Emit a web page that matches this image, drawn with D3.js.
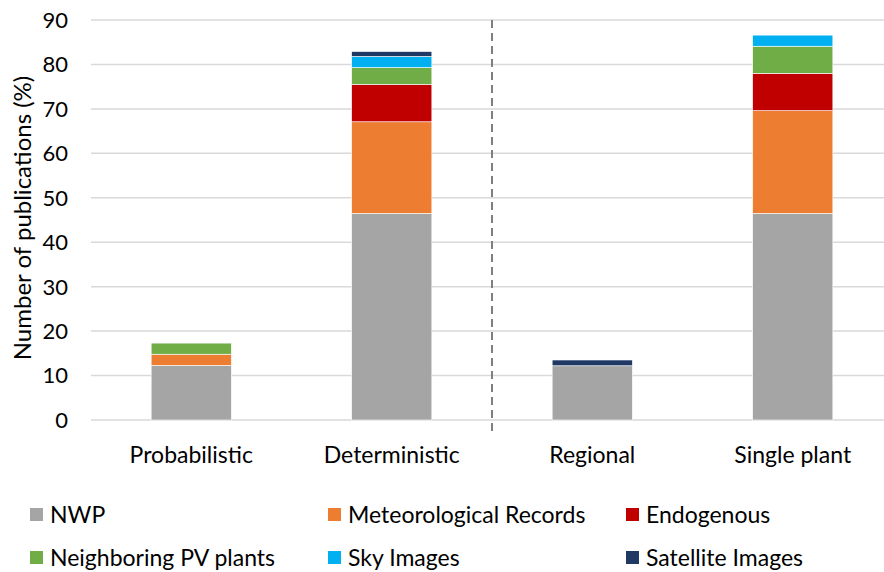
<!DOCTYPE html>
<html>
<head>
<meta charset="utf-8">
<script src="https://cdn.jsdelivr.net/npm/d3@7"></script>
<style>
  html, body { margin: 0; padding: 0; background: #fff; }
  svg text { font-family: Lato, "Open Sans", sans-serif; fill: #000; }
</style>
</head>
<body>
<svg id="chart" width="884" height="572"></svg>
<script>
// Categories along the x axis
const categories = ["Probabilistic", "Deterministic", "Regional", "Single plant"];

// Data sources, stacked bottom to top
const sources = ["NWP", "Meteorological Records", "Endogenous", "Neighboring PV plants", "Sky Images", "Satellite Images"];
const colors = ["#a5a5a5", "#ed7d31", "#c00000", "#70ad47", "#00b0f0", "#1f3864"];

// Share of publications (%) per source, one value per category
const nwp          = [12.3, 46.5, 12.2, 46.5];
const meteoRecords = [2.5, 20.6, 0, 23.1];
const endogenous   = [0, 8.4, 0, 8.4];
const neighboring  = [2.5, 3.8, 0, 6.1];
const skyImages    = [0, 2.5, 0, 2.5];
const satellite    = [0, 1.1, 1.3, 0];

const yTicks = [0, 10, 20, 30, 40, 50, 60, 70, 80, 90];

const seriesValues = [nwp, meteoRecords, endogenous, neighboring, skyImages, satellite];
const rows = categories.map((c, i) => {
  const r = { category: c };
  sources.forEach((s, k) => { r[s] = seriesValues[k][i]; });
  return r;
});

const svg = d3.select("#chart");
const margin = { left: 91, top: 20, plotBottom: 420 };
const plotRight = 893;

const x = d3.scaleBand().domain(categories).range([margin.left, plotRight]).paddingInner(0.6).paddingOuter(0.3);
const y = d3.scaleLinear().domain([0, 90]).range([margin.plotBottom, margin.top]);

// Horizontal gridlines
svg.append("g").selectAll("line").data(yTicks).join("line")
  .attr("x1", margin.left).attr("x2", plotRight)
  .attr("y1", d => y(d)).attr("y2", d => y(d))
  .attr("stroke", "#d9d9d9").attr("stroke-width", 1.5);

// Y tick labels
svg.append("g").selectAll("text").data(yTicks).join("text")
  .attr("x", 68).attr("y", d => y(d))
  .attr("dy", "0.36em")
  .attr("text-anchor", "end")
  .style("font-size", "22px")
  .text(d => d);

// Y axis title
svg.append("text")
  .attr("transform", "translate(31,218) rotate(-90)")
  .attr("text-anchor", "middle")
  .style("font-size", "24px")
  .text("Number of publications (%)");

// Stacked bars
const stacked = d3.stack().keys(sources)(rows);
svg.append("g").selectAll("g").data(stacked).join("g")
  .attr("fill", (d, i) => colors[i])
  .selectAll("rect").data(d => d.filter(p => p[1] - p[0] > 0)).join("rect")
  .attr("x", d => x(d.data.category))
  .attr("width", x.bandwidth())
  .attr("y", d => y(d[1]))
  .attr("height", d => y(d[0]) - y(d[1]))
  .attr("stroke", "#ffffff").attr("stroke-width", 0.6);

// Separator between forecast type and spatial scale groups
const sepX = (x(categories[1]) + x.bandwidth() + x(categories[2])) / 2;
svg.append("line")
  .attr("x1", sepX).attr("x2", sepX)
  .attr("y1", y(90)).attr("y2", 431)
  .attr("stroke", "#7f7f7f").attr("stroke-width", 2)
  .attr("stroke-dasharray", "8,5");

// Category labels
svg.append("g").selectAll("text").data(categories).join("text")
  .attr("x", d => x(d) + x.bandwidth() / 2)
  .attr("y", 463)
  .attr("text-anchor", "middle")
  .style("font-size", "23px")
  .text(d => d);

// Legend
const legendPos = [[30, 515], [328, 515], [626, 515], [30, 558], [328, 558], [626, 558]];
const legend = svg.append("g").selectAll("g").data(sources).join("g")
  .attr("transform", (d, i) => `translate(${legendPos[i][0]},${legendPos[i][1]})`);
legend.append("rect")
  .attr("x", 0).attr("y", -7).attr("width", 13).attr("height", 13)
  .attr("fill", (d, i) => colors[i]);
legend.append("text")
  .attr("x", 20).attr("y", 0).attr("dy", "0.36em")
  .style("font-size", "23px")
  .text(d => d);
</script>
</body>
</html>
